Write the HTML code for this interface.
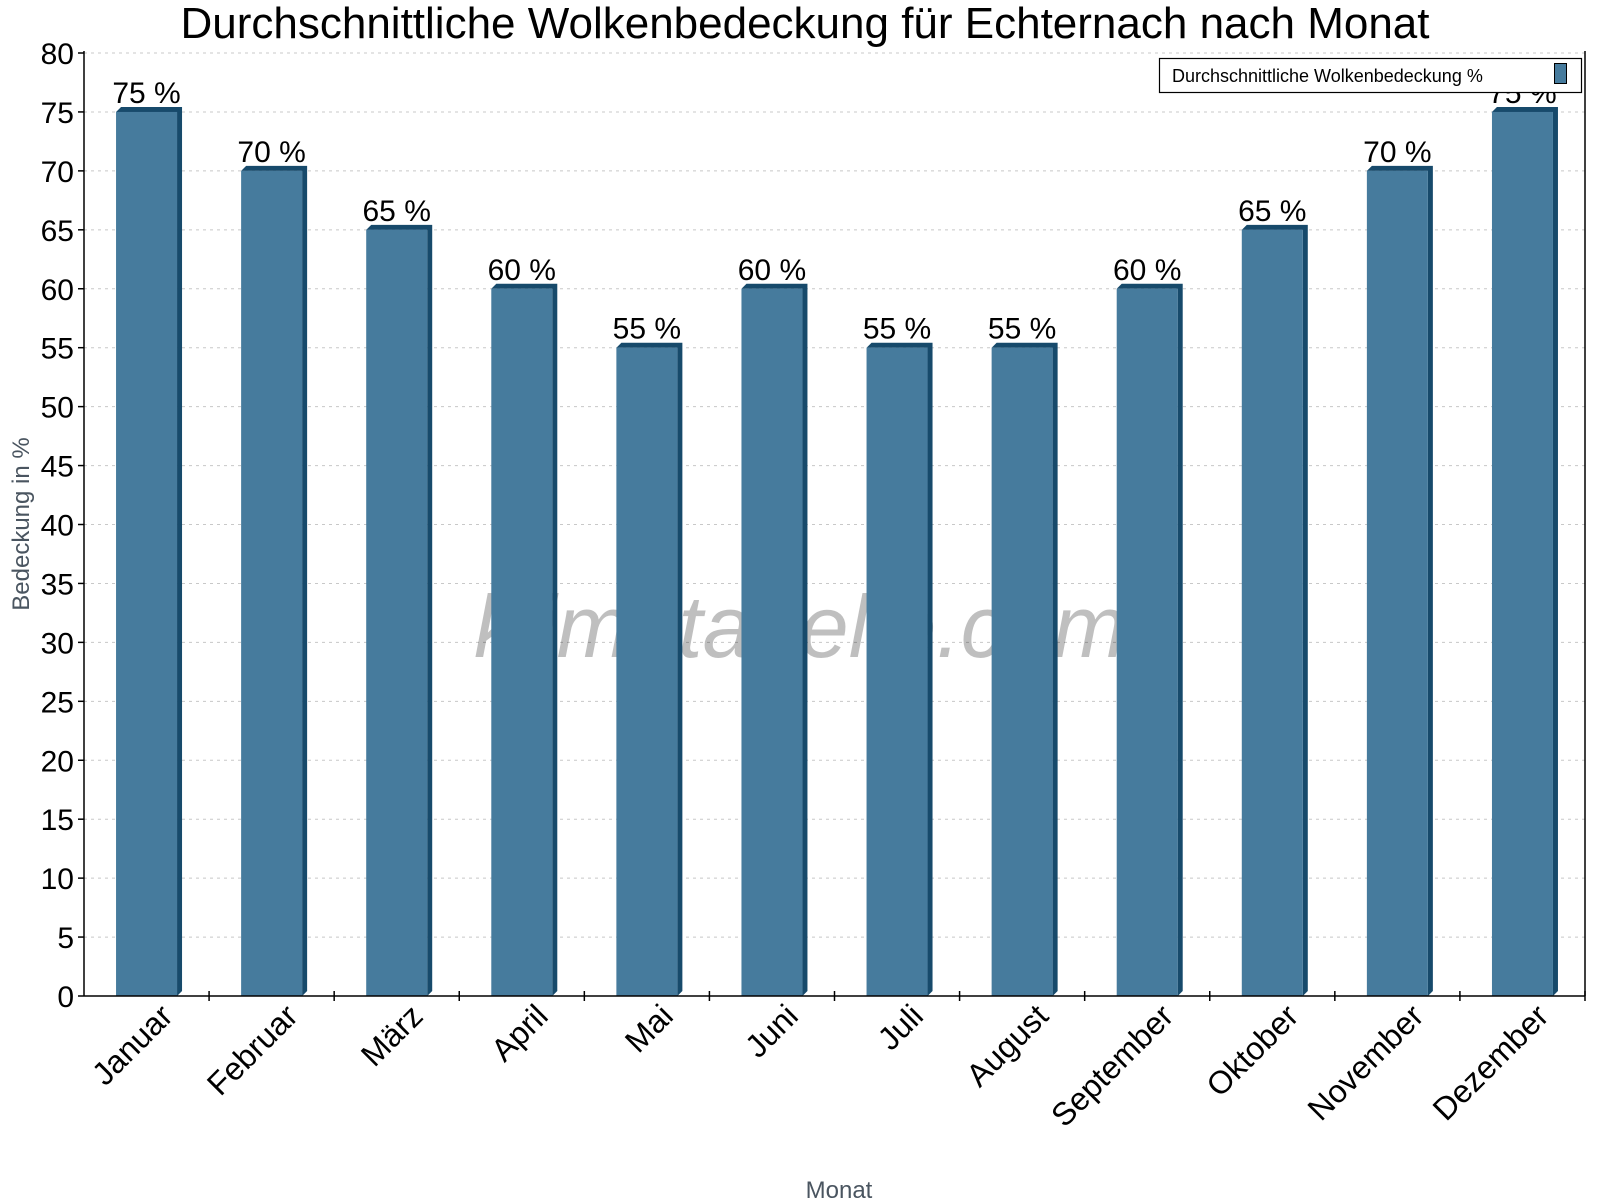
<!DOCTYPE html>
<html><head><meta charset="utf-8"><style>
html,body{margin:0;padding:0;background:#fff;}
svg{display:block;font-family:"Liberation Sans",sans-serif;}
</style></head><body>
<svg id="chart" width="1600" height="1200" viewBox="0 0 1600 1200">
<text x="805" y="38" font-size="44" text-anchor="middle" fill="#000">Durchschnittliche Wolkenbedeckung für Echternach nach Monat</text>
<g id="grid"></g>
<text x="800" y="657" font-size="88" font-style="italic" fill="#000" fill-opacity="0.25" textLength="652" lengthAdjust="spacingAndGlyphs" text-anchor="middle">klimatabelle.com</text>
<g id="bars"></g>
<g id="axes"></g>
<text transform="translate(29,524) rotate(-90)" font-size="24" text-anchor="middle" fill="#4a5560">Bedeckung in %</text>
<text x="839" y="1198" font-size="24" text-anchor="middle" fill="#4a5560">Monat</text>
<g>
<rect x="1159.5" y="58.5" width="422" height="34" fill="#fff" stroke="#000" stroke-width="1.2"/>
<text x="1172" y="82" font-size="18" fill="#000">Durchschnittliche Wolkenbedeckung %</text>
<rect x="1554.5" y="63.5" width="12" height="20" fill="#467b9d" stroke="#000" stroke-width="1"/>
</g>
</svg>
<script>
const months = ["Januar","Februar","März","April","Mai","Juni","Juli","August","September","Oktober","November","Dezember"];
const cloudCover = [75,70,65,60,55,60,55,55,60,65,70,75];
const yTicks = [0,5,10,15,20,25,30,35,40,45,50,55,60,65,70,75,80];

const NS="http://www.w3.org/2000/svg";
const X0=84, X1=1585, Y0=996, YTOP=53, YMAX=80;
const band=(X1-X0)/months.length;
const y=v=>Y0-(v/YMAX)*(Y0-YTOP);
const xc=i=>X0+band*(i+0.5);
function mk(tag,attrs,parent){const e=document.createElementNS(NS,tag);for(const k in attrs)e.setAttribute(k,attrs[k]);parent.appendChild(e);return e;}
const grid=document.getElementById('grid'),bars=document.getElementById('bars'),axes=document.getElementById('axes');

yTicks.forEach(t=>{
  if(t>0){const g=mk('line',{x1:X0,x2:X1,y1:y(t),y2:y(t),stroke:'#c8c8c8','stroke-width':1,'stroke-dasharray':'3,4'},grid);
  
  }
  const tk=mk('line',{x1:X0-6,x2:X0,y1:y(t),y2:y(t),stroke:'#000','stroke-width':1.5},axes);
  
  
  const lb=mk('text',{x:X0-10,y:y(t)+11,'font-size':30,'text-anchor':'end',fill:'#000'},axes);
  lb.textContent=t;
  
  
});

const W=61,D=5;
cloudCover.forEach((v,i)=>{
  const g=mk('g',{},bars);
  
  
  const l=xc(i)-W/2, top=y(v);
  mk('polygon',{points:`${l},${top} ${l+D},${top-D} ${l+W+D},${top-D} ${l+W+D},${Y0-D} ${l+W},${Y0} ${l+W},${top}`,fill:'#174a6b'},g);
  mk('rect',{x:l,y:top,width:W,height:Y0-top,fill:'#467b9d'},g);
  const t=mk('text',{x:xc(i),y:top-9,'font-size':30,'text-anchor':'middle',fill:'#000'},bars);
  t.textContent=v+' %';
  
  
  const ml=mk('text',{transform:`translate(${xc(i)+28},${Y0+22}) rotate(-45)`,'font-size':32,'text-anchor':'end',fill:'#000'},axes);
  ml.textContent=months[i];
  
  
});
for(let i=1;i<=months.length;i++){
  const tk=mk('line',{x1:X0+band*i,x2:X0+band*i,y1:Y0-5,y2:Y0+5,stroke:'#000','stroke-width':1.5},axes);
  
  
}
const ya=mk('line',{x1:X0,x2:X0,y1:YTOP-2,y2:Y0,stroke:'#000','stroke-width':1.5},axes);


const xa=mk('line',{x1:X0,x2:X1,y1:Y0,y2:Y0,stroke:'#000','stroke-width':1.5},axes);


const ra=mk('line',{x1:X1,x2:X1,y1:YTOP-2,y2:Y0,stroke:'#000','stroke-width':1.5},axes);


</script>
</body></html>
